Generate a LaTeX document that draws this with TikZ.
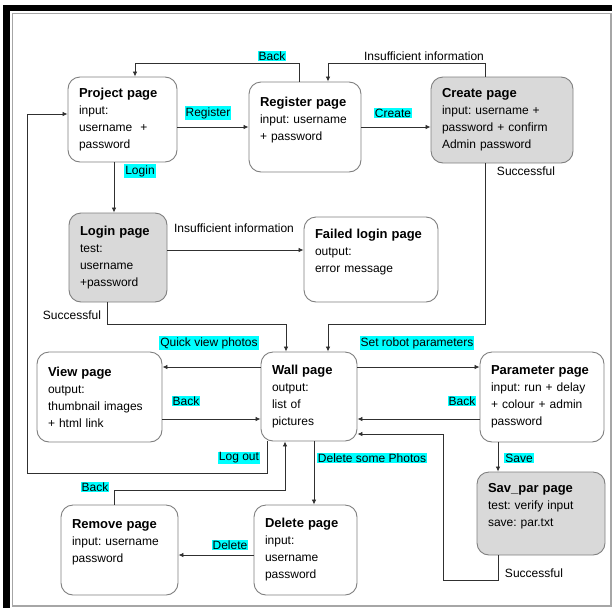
\documentclass[tikz,border=0pt]{standalone}
\usepackage{fontspec}
\setmainfont{Liberation Sans}
\usepackage{tikz}
\usetikzlibrary{arrows.meta}

\definecolor{boxline}{HTML}{7F7F7F}
\definecolor{boxfill}{HTML}{D9D9D9}
\definecolor{wire}{HTML}{303030}
\definecolor{hilite}{RGB}{0,255,255}
\newcommand{\pgname}[1]{{\fontsize{13}{17}\selectfont\bfseries #1}}
\frenchspacing

\begin{document}
\begin{tikzpicture}[x=1pt, y=-1pt,
	page/.style={draw=boxline, line width=0.9pt, rounded corners=12pt, fill=white, align=left, inner xsep=11pt, inner ysep=0pt, font=\fontsize{12}{17}\selectfont},
	shaded/.style={page, fill=boxfill},
	tag/.style={fill=hilite, inner sep=1pt, font=\fontsize{12}{14}\selectfont},
	note/.style={inner sep=1pt, font=\fontsize{12}{14}\selectfont},
	flow/.style={draw=wire, line width=0.8pt, -{Latex[length=5pt,width=4.5pt]}}]
	\useasboundingbox (0,0) rectangle (612,608);
	\fill[black] (3,5) rectangle (612,11);
	\fill[black] (3,5) rectangle (10,608);
	\draw[gray!70, line width=1.2pt] (12.5,13.5) rectangle (611,606);

	\node (project) at (122.5,119.5) [page, text width=87pt, minimum height=85pt] {\pgname{Project page}\\input:\\username~ +\\password};
	\node (register) at (305,127) [page, text width=90pt, minimum height=90pt] {\pgname{Register page}\\input: username\\+ password\\~};
	\node (create) at (502,120) [shaded, text width=120pt, minimum height=86pt] {\pgname{Create page}\\input: username +\\password + confirm\\Admin password};
		\node (login) at (118,257.5) [shaded, text width=76pt, minimum height=89pt] {\pgname{Login page}\\test:\\username\\+password};
		\node (failed) at (371,259.5) [page, text width=112pt, minimum height=85pt] {\pgname{Failed login page}\\output:\\error message\\~};
			\node (view) at (99.5,397) [page, text width=103pt, minimum height=90pt] {\pgname{View page}\\output:\\thumbnail images\\+ html link};
			\node (wall) at (309,396.5) [page, text width=74pt, minimum height=89pt] {\pgname{Wall page}\\output:\\list of\\pictures};
			\node (param) at (542,397) [page, text width=102pt, minimum height=90pt] {\pgname{Parameter page}\\input: run + delay\\+ colour + admin\\password};
				\node (savpar) at (541,513.5) [shaded, text width=106pt, minimum height=83pt] {\pgname{Sav\_par page}\\test: verify input\\save: par.txt\\~};
				\node (remove) at (119.5,550) [page, text width=95pt, minimum height=90pt] {\pgname{Remove page}\\input: username\\password\\~};
				\node (delete) at (305.5,550) [page, text width=81pt, minimum height=90pt] {\pgname{Delete page}\\input:\\username\\password};

	\draw[flow] ([xshift=-6pt]register.north) -- ++(0,-18) -| ([xshift=12.5pt]project.north);
	\node (backtop) at (272,56) [tag] {Back};
	\draw[flow] ([xshift=-17pt]create.north) -- ++(0,-13) -| ([xshift=23pt]register.north);
	\node (insuftop) at (424,56) [note] {Insufficient information};
	\draw[flow] (project.east |- register.west) -- (register.west);
	\node (lregister) at (208,113) [tag] {Register};
	\draw[flow] (register.east) -- (register.east -| create.west);
	\node (lcreate) at (393,113) [tag] {Create};
	\draw[flow] ([xshift=-8.5pt]project.south) -- ([xshift=-4pt]login.north);
	\node (llogin) at (140,171) [tag] {Login};
	\draw[flow] ([xshift=-17pt]create.south) -- ++(0,161) -| ([xshift=19pt]wall.north);
	\node (succreate) at (526,171) [note] {Successful};
	\draw[flow] ([yshift=7.5pt]login.east) -- ([yshift=9.5pt]failed.west);
	\node (insufmid) at (234,228) [note] {Insufficient information};
	\draw[flow] ([xshift=-11pt]login.south) -- ++(0,22) -| ([xshift=-23pt]wall.north);
	\node (suclogin) at (72,315) [note] {Successful};
	\draw[flow] ([yshift=29.5pt]wall.west) -- ([yshift=30pt]view.east);
	\node (lquick) at (209,343) [tag] {Quick view photos};
	\draw[flow] ([yshift=-22pt]view.east) -- ([yshift=-22.5pt]wall.west);
	\node (lbackview) at (186,401) [tag] {Back};
	\draw[flow] ([yshift=29.5pt]wall.east) -- ([yshift=30pt]param.west);
	\node (lrobot) at (417,343) [tag] {Set robot parameters};
	\draw[flow] ([yshift=-22pt]param.west) -- ([yshift=-22.5pt]wall.east);
	\node (lbackparam) at (462,401) [tag] {Back};
	\draw[flow] ([xshift=-42pt]wall.south) -- ++(0,32) -- ++(-240,0) |- ([yshift=5.5pt]project.west);
	\node (llogout) at (239,458) [tag] {Log out};
	\draw[flow] ([xshift=5pt]wall.south) -- ([xshift=8.5pt]delete.north);
	\node (ldelsome) at (372,458) [tag] {Delete some Photos};
	\draw[flow] ([xshift=-5.5pt]remove.north) -- ++(0,-14) -| ([xshift=-24pt]wall.south);
	\node (lbackremove) at (95,487) [tag] {Back};
	\draw[flow] ([yshift=-5pt]delete.west) -- ([yshift=-5pt]remove.east);
	\node (ldelete) at (230,545) [tag] {Delete};
	\draw[flow] ([xshift=-44pt]param.south) -- ([xshift=-43pt]savpar.north);
	\node (lsave) at (519,458) [tag] {Save};
	\draw[flow] ([xshift=-43pt]savpar.south) -- ++(0,25) -- ++(-55,0) |- ([yshift=-37.5pt]wall.east);
	\node (sucsave) at (534,573) [note] {Successful};
\end{tikzpicture}
\end{document}
